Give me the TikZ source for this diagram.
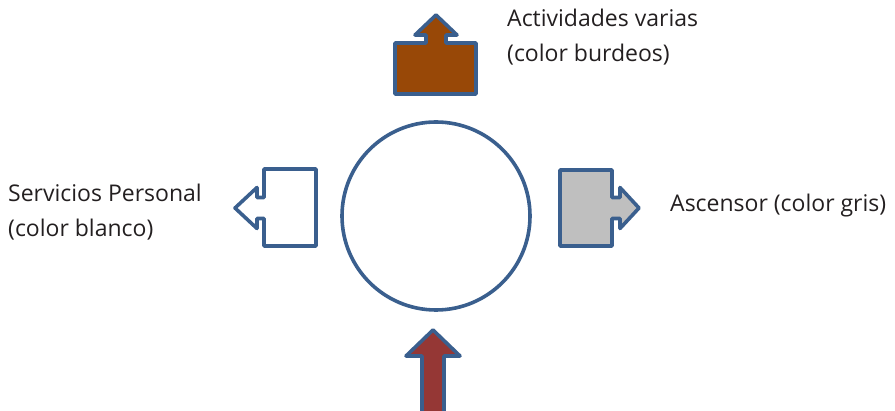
\documentclass[tikz,border=0pt]{standalone}
\usepackage{fontspec}
\setmainfont{Open Sans}
\definecolor{outl}{HTML}{3A5F8E}
\definecolor{brown}{HTML}{984807}
\definecolor{wine}{HTML}{953735}
\definecolor{grayf}{HTML}{BFBFBF}
\definecolor{txt}{HTML}{231F20}
\begin{document}
\begin{tikzpicture}[x=1pt,y=-1pt,
  shp/.style={draw=outl,line width=3.6pt,line join=round},
  lbl/.style={inner sep=0pt,anchor=base west,align=left,text=txt,font=\fontsize{23}{35}\selectfont}]
\clip (0,0) rectangle (895,411);
% circle
\node[shp,circle,minimum size=188pt,inner sep=0pt] (c) at (436,216) {};
% top: activities
\draw[shp,fill=brown] (395,43) -- (426,43) -- (426,35) -- (415,35) -- (436,15) -- (457,35) -- (446,35) -- (446,43) -- (476,43) -- (476,94) -- (395,94) -- cycle;
% left: services
\draw[shp,fill=white] (264,169) -- (316,169) -- (316,246) -- (264,246) -- (264,218.5) -- (257,218.5) -- (257,228.5) -- (235,208) -- (257,187.5) -- (257,197.5) -- (264,197.5) -- cycle;
% right: elevator
\draw[shp,fill=grayf] (560,170) -- (612,170) -- (612,197.5) -- (620,197.5) -- (620,187.5) -- (639,208) -- (620,228.5) -- (620,218.5) -- (612,218.5) -- (612,246) -- (560,246) -- cycle;
% bottom arrow
\draw[shp,fill=wine] (422,420) -- (422,356) -- (406,356) -- (433,330) -- (460,356) -- (444,356) -- (444,420) -- cycle;
% labels (base anchor = last line)
\node[lbl] (t1) at (507,62) {Actividades varias\\(color burdeos)};
\node[lbl] (t2) at (8,237) {Servicios Personal\\(color blanco)};
\node[lbl] (t3) at (670,212) {Ascensor (color gris)};
\end{tikzpicture}
\end{document}
